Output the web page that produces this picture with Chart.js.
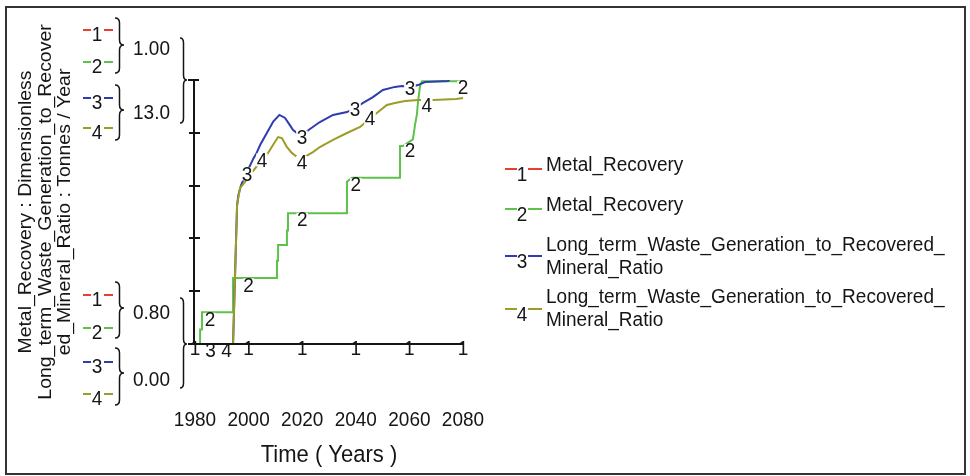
<!DOCTYPE html>
<html>
<head>
<meta charset="utf-8">
<script src="https://cdn.jsdelivr.net/npm/chart.js@4/dist/chart.umd.min.js"></script>
<style>
  html, body { margin: 0; padding: 0; background: #fff; }
  canvas { display: block; }
</style>
</head>
<body>
<canvas id="plot" width="970" height="476"></canvas>
<script>
// ---- Simulation output, 1980-2080 ----
const years1 = [1980, 2080];
const recovery1 = [0.80, 0.80];

const years2 = [1980, 1981.9, 1981.9, 1982.6, 1982.6, 1994.2, 1994.2, 2010.6, 2010.6, 2011.0,
                2011.0, 2014.3, 2014.3, 2014.7, 2014.7, 2036.7, 2036.7, 2038.6, 2056.5, 2056.5,
                2057.6, 2061.3, 2062.1, 2062.8, 2063.2, 2064.0, 2064.7, 2080];
const recovery2 = [0.800, 0.800, 0.811, 0.811, 0.824, 0.824, 0.850, 0.850, 0.863, 0.863,
                   0.875, 0.875, 0.886, 0.886, 0.899, 0.899, 0.923, 0.926, 0.926, 0.950,
                   0.950, 0.955, 0.966, 0.974, 0.983, 0.996, 0.999, 0.999];

const years3 = [1980, 1994.2, 1995.7, 1996.2, 1997.2, 1999.4, 2001.8, 2003.0, 2004.3, 2006.8,
                2009.2, 2011.5, 2013.6, 2015.4, 2016.6, 2018.1, 2019.9, 2022.9, 2026.6, 2031.5,
                2036.7, 2039.7, 2042.7, 2046.4, 2050.1, 2054.6, 2057.2, 2060.2, 2063.2, 2065.8,
                2074.4, 2076.5, 2080];
const wasteRatio3 = [0, 0, 6.84, 7.34, 7.83, 8.47, 9.14, 9.41, 9.80, 10.39,
                     10.95, 11.28, 11.13, 10.78, 10.54, 10.39, 10.29, 10.59, 10.93, 11.28,
                     11.42, 11.62, 11.87, 12.16, 12.51, 12.66, 12.70, 12.66, 12.75, 12.90,
                     12.95, 13.25, 13.30];

const years4 = [1980, 1994.2, 1995.7, 1996.8, 1998.7, 2001.3, 2005.0, 2006.8, 2009.1, 2011.0,
                2012.4, 2014.2, 2016.1, 2018.1, 2019.9, 2022.2, 2024.0, 2026.6, 2031.5, 2036.7,
                2041.6, 2045.3, 2048.3, 2051.6, 2054.6, 2058.4, 2063.2, 2068.8, 2077.5, 2080];
const wasteRatio4 = [0, 0, 6.84, 7.68, 7.98, 8.47, 9.06, 9.31, 9.80, 10.19,
                     10.14, 9.72, 9.41, 9.21, 9.06, 9.31, 9.45, 9.70, 10.05, 10.39,
                     10.69, 11.10, 11.42, 11.77, 11.87, 11.97, 12.02, 12.02, 12.07, 12.11];

// ---- Axes ----
const timeTicks = [1980, 2000, 2020, 2040, 2060, 2080];
const recoveryScale = [0.80, 1.00];
const ratioScale = [0.00, 13.0];
const recoveryScaleText = ['0.80', '1.00'];
const ratioScaleText = ['0.00', '13.0'];
const valueDivisions = 5;

// ---- Text ----
const seriesNames = [
  ['Metal_Recovery'],
  ['Metal_Recovery'],
  ['Long_term_Waste_Generation_to_Recovered_', 'Mineral_Ratio'],
  ['Long_term_Waste_Generation_to_Recovered_', 'Mineral_Ratio']
];
const valueTitle = [
  'Metal_Recovery : Dimensionless',
  'Long_term_Waste_Generation_to_Recover',
  'ed_Mineral_Ratio : Tonnes / Year'
];
const timeTitle = 'Time ( Years )';

// Years at which each curve carries its number tag
const tagYears = [
  [1980, 2000, 2020, 2040, 2060, 2080],
  [1985.6, 2000, 2020, 2040, 2060.2, 2080],
  [1985.8, 1999.4, 2019.9, 2039.7, 2060.2],
  [1991.8, 2005.0, 2019.9, 2045.3, 2066.5]
];
// vertical nudge of each tag (px) relative to its curve
const tagNudge = [
  [5, 5, 5, 5, 5, 5],
  [7, 7, 6, 7, 9, 6],
  [6, 2, 2, 1, 1.5],
  [6, 0, 2.5, 0, 5]
];

const COLORS = ['#e8402c', '#5cc24a', '#2d3cae', '#9c9c26'];
const INK = '#151515';
const FONT = '"Liberation Sans", Arial, Helvetica, sans-serif';

const pts = (xs, ys) => xs.map((x, i) => ({ x, y: ys[i] }));

function valueAt(xs, ys, t) {
  for (let i = 0; i < xs.length - 1; i++) {
    if (xs[i + 1] > xs[i] && t >= xs[i] && t <= xs[i + 1]) {
      const f = (t - xs[i]) / (xs[i + 1] - xs[i]);
      return ys[i] + f * (ys[i + 1] - ys[i]);
    }
  }
  return ys[ys.length - 1];
}

function text(ctx, s, x, y, size, align, rot) {
  ctx.save();
  ctx.translate(x, y);
  ctx.scale(1, 1.08);
  if (rot) ctx.rotate(rot);
  ctx.font = size + 'px ' + FONT;
  ctx.textAlign = align || 'center';
  ctx.textBaseline = 'middle';
  ctx.fillStyle = INK;
  ctx.fillText(s, 0, 0);
  ctx.restore();
}

// digit tag, optionally knocked out of the curve behind it
function tag(ctx, s, x, y, knock) {
  ctx.save();
  ctx.font = '19px ' + FONT;
  const w = ctx.measureText(s).width;
  if (knock) {
    ctx.fillStyle = '#fff';
    ctx.fillRect(x - w / 2 - 0.5, y - 6.5, w + 1, 13);
  }
  ctx.restore();
  text(ctx, s, x, y + 1, 19, 'center');
}

// right-facing curly brace from yTop to yBot with its point at yTip
function brace(ctx, x, yTop, yBot, yTip, depth) {
  const mid = x + depth * 0.5;
  const r = 5;
  ctx.beginPath();
  ctx.moveTo(x, yTop);
  ctx.quadraticCurveTo(mid, yTop, mid, yTop + r);
  ctx.lineTo(mid, yTip - r);
  ctx.quadraticCurveTo(mid, yTip, x + depth, yTip);
  ctx.quadraticCurveTo(mid, yTip, mid, yTip + r);
  ctx.lineTo(mid, yBot - r);
  ctx.quadraticCurveTo(mid, yBot, x, yBot);
  ctx.stroke();
}

function keyMark(ctx, i, x, yLine, gapLeft, gapRight, xEnd) {
  ctx.strokeStyle = COLORS[i];
  ctx.lineWidth = 2;
  ctx.beginPath();
  ctx.moveTo(x, yLine); ctx.lineTo(gapLeft, yLine);
  ctx.moveTo(gapRight, yLine); ctx.lineTo(xEnd, yLine);
  ctx.stroke();
}

const series = [
  [years1, recovery1, 'yR'],
  [years2, recovery2, 'yR'],
  [years3, wasteRatio3, 'yW'],
  [years4, wasteRatio4, 'yW']
];

const decor = {
  id: 'decor',
  afterDatasetsDraw(chart) {
    const { ctx, chartArea: a } = chart;
    const sx = chart.scales.x, sR = chart.scales.yR;

    // number tags on curves 2-4
    for (let s = 1; s < 4; s++) {
      const [xs, ys, axis] = series[s];
      tagYears[s].forEach((t, k) => {
        const px = sx.getPixelForValue(t);
        const py = chart.scales[axis].getPixelForValue(valueAt(xs, ys, t));
        tag(ctx, String(s + 1), px, Math.min(py, a.bottom) + tagNudge[s][k], true);
      });
    }

    ctx.save();
    ctx.strokeStyle = INK;
    ctx.lineWidth = 2;
    // value axis with its divisions
    ctx.beginPath();
    ctx.moveTo(a.left - 1, a.top - 1);
    ctx.lineTo(a.left - 1, a.bottom + 1);
    ctx.moveTo(a.left - 1, a.bottom);
    ctx.lineTo(a.right, a.bottom);
    ctx.moveTo(a.left - 7, a.top);
    ctx.lineTo(a.left + 4, a.top);
    ctx.moveTo(a.left - 7, a.bottom);
    ctx.lineTo(a.left, a.bottom);
    for (let k = 1; k < valueDivisions; k++) {
      const v = recoveryScale[0] + (recoveryScale[1] - recoveryScale[0]) * k / valueDivisions;
      const y = Math.round(sR.getPixelForValue(v));
      ctx.moveTo(a.left - 6, y);
      ctx.lineTo(a.left + 5, y);
    }
    ctx.stroke();

    // scale braces
    ctx.lineWidth = 1.5;
    const yTop = sR.getPixelForValue(recoveryScale[1]);
    const yBot = sR.getPixelForValue(recoveryScale[0]);
    brace(ctx, 180, 38, 123, yTop, 7);
    brace(ctx, 180, 298, 388, yBot, 7);
    brace(ctx, 115, 18, 73, 45, 9);
    brace(ctx, 115, 85, 140, 110, 9);
    brace(ctx, 115, 282, 338, 308, 9);
    brace(ctx, 115, 348, 405, 373, 9);
    ctx.restore();

    // scale keys at the top and bottom of the value axis
    const keyRowsTop = [30, 62, 98, 128];
    const keyRowsBot = [295, 328, 362, 394];
    [keyRowsTop, keyRowsBot].forEach(rows => {
      rows.forEach((y, i) => {
        keyMark(ctx, i, 83, y, 91, 104, 113);
        text(ctx, String(i + 1), 97, y + 5, 19, 'center');
      });
    });
    text(ctx, recoveryScaleText[1], 133, 49, 19, 'left');
    text(ctx, ratioScaleText[1], 133, 113, 19, 'left');
    text(ctx, recoveryScaleText[0], 133, 313, 19, 'left');
    text(ctx, ratioScaleText[0], 133, 380, 19, 'left');

    // curve 1 tags sit on the time axis
    const [x1, y1] = series[0];
    tagYears[0].forEach((t, k) => {
      const px = sx.getPixelForValue(t);
      const py = Math.min(sR.getPixelForValue(valueAt(x1, y1, t)), a.bottom);
      text(ctx, '1', px, py + tagNudge[0][k], 19, 'center');
    });

    // time axis labels and title
    timeTicks.forEach(t => text(ctx, String(t), sx.getPixelForValue(t), 420, 19, 'center'));
    text(ctx, timeTitle, (a.left + a.right) / 2, 455, 22, 'center');

    // value axis title
    const titleX = [26, 46, 65];
    valueTitle.forEach((s, i) => text(ctx, s, titleX[i], 212, 18, 'center', -Math.PI / 2));

    // key
    const keyRows = [
      { line: 169, label: [165] },
      { line: 209, label: [205] },
      { line: 256, label: [245, 268] },
      { line: 309, label: [297, 320] }
    ];
    keyRows.forEach((r, i) => {
      keyMark(ctx, i, 505, r.line, 517, 528, 542);
      text(ctx, String(i + 1), 522, r.line + 6, 19, 'center');
      seriesNames[i].forEach((s, j) => text(ctx, s, 546, r.label[j], 19, 'left'));
    });

    // frame
    ctx.save();
    ctx.strokeStyle = '#333';
    ctx.lineWidth = 2;
    ctx.strokeRect(6, 7, 959, 467);
    ctx.restore();
  }
};

new Chart(document.getElementById('plot').getContext('2d'), {
  type: 'line',
  data: {
    datasets: series.map(([xs, ys, axis], i) => ({
      label: seriesNames[i].join(''),
      data: pts(xs, ys),
      yAxisID: axis,
      borderColor: COLORS[i],
      backgroundColor: COLORS[i],
      borderWidth: 2,
      pointRadius: 0,
      tension: 0,
      fill: false,
      order: 3 - i
    }))
  },
  options: {
    responsive: false,
    animation: false,
    events: [],
    layout: { padding: { left: 195, right: 507, top: 80, bottom: 132 } },
    scales: {
      x: { type: 'linear', min: 1980, max: 2080, display: false },
      yR: { type: 'linear', min: recoveryScale[0], max: recoveryScale[1], display: false },
      yW: { type: 'linear', min: ratioScale[0], max: ratioScale[1], display: false }
    },
    plugins: { legend: { display: false }, tooltip: { enabled: false } }
  },
  plugins: [decor]
});
</script>
</body>
</html>
